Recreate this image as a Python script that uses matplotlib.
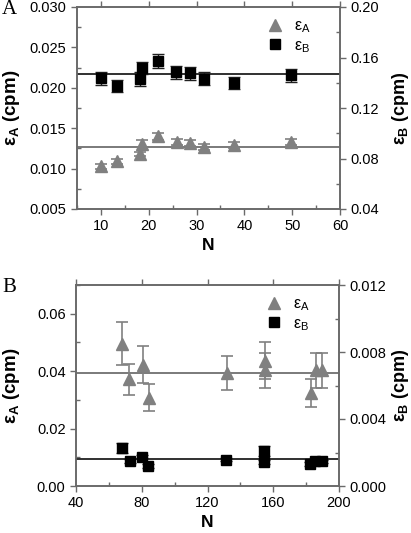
import matplotlib
matplotlib.use('Agg')
import matplotlib.pyplot as plt
from matplotlib.ticker import MultipleLocator
from matplotlib.lines import Line2D

plt.rcParams['font.family'] = ['Liberation Sans', 'DejaVu Sans']
plt.rcParams['mathtext.fontset'] = 'custom'
plt.rcParams['mathtext.rm'] = 'Liberation Sans'
plt.rcParams['mathtext.it'] = 'Liberation Sans'
plt.rcParams['mathtext.bf'] = 'Liberation Sans:bold'

# Panel A data
a_n_A = [10, 13.3, 18.2, 18.6, 22, 25.9, 28.7, 31.5, 37.8, 49.8]
a_epsA = [0.0103, 0.0109, 0.0118, 0.0131, 0.0140, 0.0133, 0.0132, 0.0127, 0.0129, 0.0133]
a_errA = [0.0003, 0.0003, 0.0003, 0.0004, 0.0004, 0.0004, 0.0004, 0.0004, 0.0004, 0.0004]
a_n_B = [10, 13.3, 18.1, 18.6, 21.9, 25.7, 28.6, 31.5, 37.8, 49.8]
a_epsB = [0.1434, 0.1374, 0.1429, 0.1518, 0.1571, 0.1482, 0.1474, 0.1432, 0.1397, 0.1458]
a_errB = [0.0050, 0.0050, 0.0055, 0.0050, 0.0055, 0.0050, 0.0050, 0.0050, 0.0050, 0.0050]
a_meanA = 0.0127
a_meanB = 0.1466

# Panel B data
b_n_A = [68.2, 72.5, 80.6, 84.4, 131.7, 154.8, 154.8, 182.8, 185.8, 189.6]
b_epsA = [0.0496, 0.0371, 0.0422, 0.0308, 0.0394, 0.0437, 0.0403, 0.0324, 0.0403, 0.0403]
b_errA = [0.0075, 0.0055, 0.0064, 0.0047, 0.0058, 0.0065, 0.0060, 0.0048, 0.0060, 0.0060]
b_n_B = [67.8, 72.7, 80.0, 83.8, 131.3, 154.6, 154.6, 182.4, 185.6, 189.5]
b_epsB = [0.00229, 0.00149, 0.00175, 0.00119, 0.00157, 0.00207, 0.00143, 0.00131, 0.00147, 0.00147]
b_errB = [0.00030, 0.0001, 0.0001, 0.0001, 0.0001, 0.00030, 0.0001, 0.0001, 0.0001, 0.0001]
b_meanA = 0.0394
b_meanB = 0.00159

GRAY = '#808080'
SPINE = '#6a6a6a'


def style_axes(ax, ax2):
    for a in (ax, ax2):
        for s in a.spines.values():
            s.set_color(SPINE)
            s.set_linewidth(1.2)
        a.tick_params(which='major', direction='out', length=4, width=1, color=SPINE, labelsize=10.5)
        a.tick_params(which='minor', direction='in', length=3, width=1, color=SPINE)


def panel(rect, letter, nA, eA, errA, nB, eB, errB, meanA, meanB,
          xlim, xmaj, xmin, ylimA, ymajA, yminA, fmtA, ylimB, ymajB, yminB, fmtB):
    ax = fig.add_axes(rect)
    ax2 = ax.twinx()
    ax.set_xlim(*xlim)
    ax.set_ylim(*ylimA)
    ax2.set_ylim(*ylimB)
    ax.xaxis.set_major_locator(MultipleLocator(xmaj))
    ax.xaxis.set_minor_locator(MultipleLocator(xmin))
    ax.yaxis.set_major_locator(MultipleLocator(ymajA))
    ax.yaxis.set_minor_locator(MultipleLocator(yminA))
    ax2.yaxis.set_major_locator(MultipleLocator(ymajB))
    ax2.yaxis.set_minor_locator(MultipleLocator(yminB))
    ax.yaxis.set_major_formatter(plt.FormatStrFormatter(fmtA))
    ax2.yaxis.set_major_formatter(plt.FormatStrFormatter(fmtB))
    ax.tick_params(top=True, which='major', axis='x')
    style_axes(ax, ax2)

    ax.axhline(meanA, color='#707070', lw=1.3, zorder=1)
    ax2.axhline(meanB, color='#202020', lw=1.3, zorder=1)
    ax.errorbar(nA, eA, yerr=errA, fmt='^', color=GRAY, ms=8, ecolor=GRAY,
                elinewidth=1.2, capsize=4, capthick=1.2, zorder=3)
    ax2.errorbar(nB, eB, yerr=errB, fmt='s', color='black', ms=6.5, ecolor='#202020',
                 elinewidth=1, capsize=4, capthick=1, zorder=3)

    ax.set_ylabel(r'$\mathbf{\epsilon_A}$ (cpm)', fontsize=13.5, fontweight='bold')
    ax2.set_ylabel(r'$\mathbf{\epsilon_B}$ (cpm)', fontsize=13, fontweight='bold')
    w = rect[2] * 411
    ax.yaxis.set_label_coords((22 - rect[0] * 411) / w, 0.5)
    ax2.yaxis.set_label_coords((390 - rect[0] * 411) / w, 0.5)
    ax.set_xlabel('N', fontsize=12.5, fontweight='bold', labelpad=3)

    handles = [Line2D([], [], marker='^', color=GRAY, ls='none', ms=8),
               Line2D([], [], marker='s', color='black', ls='none', ms=6.5)]
    ax.legend(handles, [r'$\epsilon_A$', r'$\epsilon_B$'], loc='upper right',
              frameon=False, fontsize=11.5, handletextpad=0.2, borderaxespad=0.3,
              labelspacing=0.2, bbox_to_anchor=(0.93, 1.0))
    fig.text(0.005, rect[1] + rect[3] - 0.005, letter, fontsize=15,
             family='Liberation Serif', va='center', ha='left')
    return ax, ax2


fig = plt.figure(figsize=(4.11, 5.33), dpi=100)

panel([77 / 411, 1 - 209 / 533, 263 / 411, 202 / 533], 'A',
      a_n_A, a_epsA, a_errA, a_n_B, a_epsB, a_errB, a_meanA, a_meanB,
      (5, 60), 10, 5, (0.005, 0.030), 0.005, 0.0025, '%.3f',
      (0.04, 0.20), 0.04, 0.02, '%.2f')

panel([76 / 411, 1 - 486 / 533, 263 / 411, 201 / 533], 'B',
      b_n_A, b_epsA, b_errA, b_n_B, b_epsB, b_errB, b_meanA, b_meanB,
      (40, 200), 40, 20, (0.0, 0.07), 0.02, 0.01, '%.2f',
      (0.0, 0.012), 0.004, 0.002, '%.3f')

fig.savefig('out.png', dpi=100)
